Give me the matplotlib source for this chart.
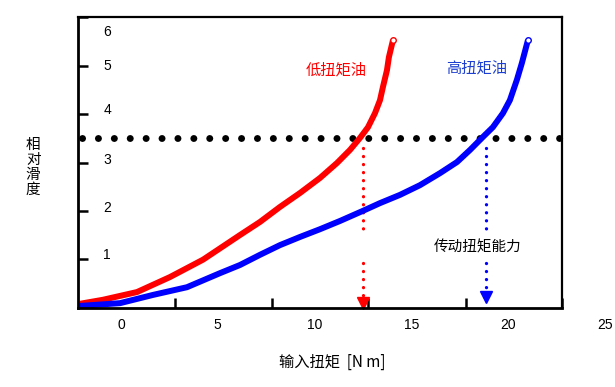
# -*- coding: utf-8 -*-
# %% Data (x in N m, y relative slip)
import matplotlib
matplotlib.use('Agg')
import matplotlib.pyplot as plt

low_x = [-2.22, -0.93, 0.83, 2.53, 4.24, 6.15, 7.18, 8.21, 9.25, 10.28, 11.16, 11.83, 12.35, 12.76, 13.12, 13.38, 13.53, 13.74, 13.84, 14.05]
low_y = [0.07, 0.16, 0.32, 0.63, 0.99, 1.50, 1.77, 2.08, 2.37, 2.68, 2.99, 3.26, 3.51, 3.73, 4.02, 4.29, 4.56, 4.91, 5.18, 5.53]

high_x = [-2.22, -0.05, 1.65, 3.41, 5.11, 6.15, 7.18, 8.21, 9.25, 10.28, 11.31, 12.50, 13.38, 14.41, 15.44, 16.48, 17.36, 18.03, 18.70, 19.21, 19.73, 20.09, 20.45, 20.71, 21.02]
high_y = [0.03, 0.09, 0.26, 0.42, 0.71, 0.88, 1.09, 1.29, 1.46, 1.62, 1.79, 2.00, 2.16, 2.33, 2.53, 2.78, 3.01, 3.26, 3.53, 3.73, 4.02, 4.29, 4.71, 5.06, 5.53]

limit_y = 3.51                  # transmission torque capacity level
low_cap = 12.5                  # capacity of low torque oil
high_cap = 18.85                # capacity of high torque oil

xticklabels = ['0', '5', '10', '15', '20', '25']
xtickvals = [0, 5, 10, 15, 20, 25]
yticklabels = ['1', '2', '3', '4', '5', '6']
ytickpos = [1.08, 2.06, 3.05, 4.09, 4.99, 5.70]   # labels sit a bit off the ticks

# %% Plotting
plt.rcParams['font.family'] = ['Noto Sans CJK SC', 'DejaVu Sans']
fig = plt.figure(figsize=(6.15, 3.87), dpi=100)
ax = fig.add_axes([0.1268, 0.2054, 0.7870, 0.7494])
ax.set_xlim(-2.22, 22.78)
ax.set_ylim(0, 6)

# dotted capacity level
ax.plot([-2.0, 22.78], [limit_y, limit_y], color='black', lw=5.0,
        linestyle=(0, (0.01, 2.28)), dash_capstyle='round', clip_on=False)

# vertical dotted arrows (broken in the middle)
for xc, col, tip in [(low_cap, 'red', 0.10), (high_cap, 'blue', 0.21)]:
    ax.plot([xc, xc], [3.31, 1.62], color=col, lw=2.4,
            linestyle=(0, (0.01, 2.4)), dash_capstyle='round')
    ax.plot([xc, xc], [0.92, tip + 0.12], color=col, lw=2.4,
            linestyle=(0, (0.01, 2.4)), dash_capstyle='round')
    ax.plot([xc], [tip], marker='v', color=col, markersize=9, clip_on=False)

# curves
ax.plot(low_x, low_y, color='red', lw=4.3, solid_capstyle='butt', solid_joinstyle='round')
ax.plot(high_x, high_y, color='blue', lw=4.3, solid_capstyle='butt', solid_joinstyle='round')
ax.plot(low_x[-1], low_y[-1], 'o', mfc='white', mec='red', ms=4, mew=1)
ax.plot(high_x[-1], high_y[-1], 'o', mfc='white', mec='blue', ms=4, mew=1)

ax.text(11.1, 4.91, '低扭矩油', color='red', fontsize=11, ha='center', va='center')
ax.text(18.39, 4.96, '高扭矩油', color='#1c3fd1', fontsize=11, ha='center', va='center')
ax.text(18.44, 1.25, '传动扭矩能力', color='black', fontsize=10.5, ha='center', va='center')

# ticks: marks inward, labels placed by hand
ax.set_xticks([2.8, 7.8, 12.78, 17.8, 22.78])
ax.set_yticks([1, 2, 3, 4, 5, 6])
ax.set_xticklabels([])
ax.set_yticklabels([])
ax.tick_params(direction='in', length=7, width=1.8)
for v, s in zip(xtickvals, xticklabels):
    ax.annotate(s, xy=(v, 0), xycoords=('data', 'axes fraction'), xytext=(0, -12.6),
                textcoords='offset points', ha='center', va='center', fontsize=10,
                family='Liberation Sans', annotation_clip=False)
for v, s in zip(ytickpos, yticklabels):
    ax.text(-0.72, v, s, ha='center', va='center', fontsize=10, family='Liberation Sans')

for side in ['left', 'bottom']:
    ax.spines[side].set_linewidth(2.0)
for side in ['top', 'right']:
    ax.spines[side].set_linewidth(1.6)

fig.text(0.541, 0.065, '输入扭矩  [N m]', fontsize=11, ha='center', va='center')
fig.text(0.054, 0.568, '相\n对\n滑\n度', fontsize=10.5, ha='center', va='center', linespacing=1.1)

# %% Saving Figure
plt.savefig('out.png', dpi=100)
plt.close('all')
